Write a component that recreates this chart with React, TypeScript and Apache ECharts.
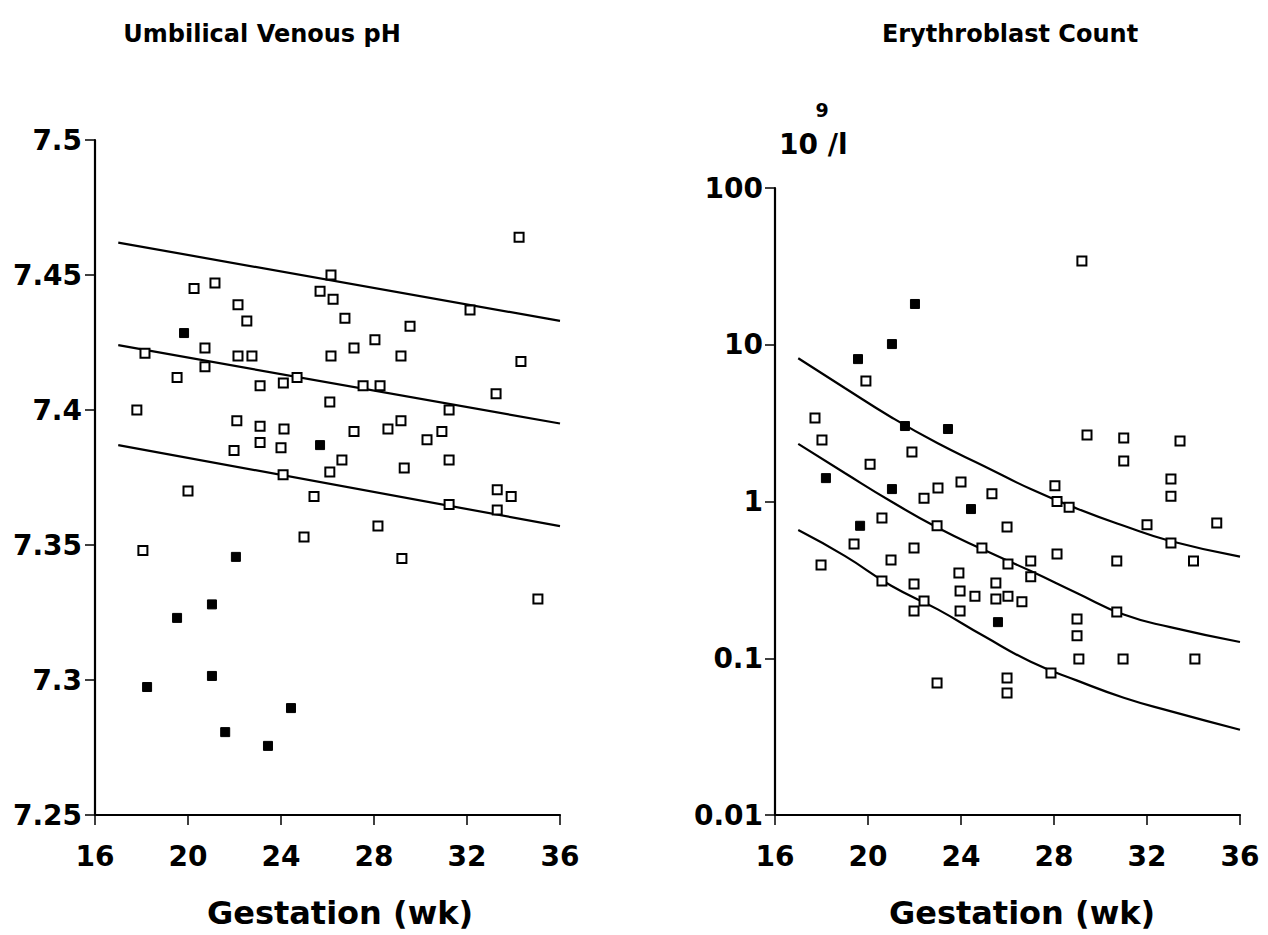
import React, { useEffect, useRef } from "react";
import * as echarts from "echarts";

// ---------- Data: Umbilical Venous pH ----------
const phOpen: number[][] = [
  [20.26, 7.445], [21.16, 7.447], [25.68, 7.444], [22.15, 7.439], [22.53, 7.433],
  [20.73, 7.423], [18.15, 7.421], [22.15, 7.42], [22.75, 7.42], [20.73, 7.416],
  [19.53, 7.412], [24.69, 7.412], [23.1, 7.409], [24.1, 7.41], [17.8, 7.4],
  [22.1, 7.396], [23.1, 7.394], [24.13, 7.393], [23.1, 7.388], [24.0, 7.386],
  [21.98, 7.385], [24.09, 7.376], [20.0, 7.37], [25.42, 7.368],
  [34.24, 7.464], [26.15, 7.45], [26.24, 7.441], [32.13, 7.437], [26.75, 7.434],
  [29.55, 7.431], [28.04, 7.426], [27.14, 7.423], [26.15, 7.42], [29.16, 7.42],
  [34.32, 7.418], [27.53, 7.409], [28.26, 7.409], [33.25, 7.406], [26.1, 7.403],
  [31.23, 7.4], [29.16, 7.396], [27.14, 7.392], [28.6, 7.393], [30.92, 7.392],
  [30.28, 7.389], [26.62, 7.3815], [31.23, 7.3815], [26.1, 7.377], [29.3, 7.3785],
  [33.3, 7.3705], [33.9, 7.368], [31.23, 7.365], [33.3, 7.363],
  [18.06, 7.348], [24.99, 7.353], [28.17, 7.357], [29.2, 7.345], [35.05, 7.33],
];
const phFilled: number[][] = [
  [19.83, 7.4285], [25.68, 7.387], [22.06, 7.3456], [21.03, 7.328], [19.53, 7.323],
  [21.03, 7.3015], [18.24, 7.2974], [24.43, 7.2896], [21.6, 7.2807], [23.44, 7.2756],
];
const phUpper: number[][] = [[17, 7.462], [36, 7.433]];
const phMiddle: number[][] = [[17, 7.424], [36, 7.395]];
const phLower: number[][] = [[17, 7.387], [36, 7.357]];

// ---------- Data: Erythroblast Count (10^9/l) ----------
const ebOpen: number[][] = [
  [19.91, 5.87], [17.72, 3.41], [18.02, 2.47], [21.89, 2.07], [20.09, 1.73],
  [24.0, 1.33], [23.01, 1.22], [22.41, 1.05], [25.33, 1.12], [20.6, 0.785],
  [22.97, 0.7], [25.98, 0.687],
  [29.2, 34.2], [29.42, 2.66], [31.0, 2.54], [33.42, 2.43], [31.0, 1.81],
  [33.03, 1.39], [33.03, 1.08], [28.04, 1.26], [28.13, 1.0], [28.65, 0.92],
  [32.0, 0.71], [35.0, 0.73],
  [19.4, 0.536], [21.98, 0.505], [17.98, 0.394], [20.99, 0.424], [24.9, 0.505],
  [26.02, 0.4], [27.0, 0.417], [28.13, 0.462], [30.7, 0.417], [34.0, 0.417],
  [33.03, 0.543], [27.0, 0.331], [23.91, 0.35], [25.5, 0.302], [21.98, 0.298],
  [20.6, 0.311], [23.96, 0.269], [24.6, 0.249], [25.5, 0.239], [26.02, 0.249],
  [26.62, 0.229], [22.41, 0.232], [21.98, 0.2], [23.96, 0.2], [30.7, 0.197],
  [28.99, 0.178], [28.99, 0.139], [29.07, 0.099], [30.97, 0.099], [34.06, 0.099],
  [27.87, 0.0805], [25.98, 0.0748], [25.98, 0.06], [22.97, 0.0695],
];
const ebFilled: number[][] = [
  [22.02, 18.2], [21.03, 10.1], [19.57, 8.1], [21.59, 3.03], [23.44, 2.9],
  [18.19, 1.41], [21.03, 1.2], [24.43, 0.895], [19.66, 0.7], [25.59, 0.17],
];
const ebUpper: number[][] = [
  [17, 8.2], [19, 5.3], [21, 3.45], [23, 2.35], [25, 1.68],
  [27, 1.2], [29, 0.9], [31, 0.7], [33, 0.56], [36, 0.445],
];
const ebMiddle: number[][] = [
  [17, 2.33], [19, 1.52], [21, 1.0], [23, 0.68], [25, 0.49],
  [27, 0.36], [29, 0.26], [31, 0.19], [33, 0.158], [36, 0.127],
];
const ebLower: number[][] = [
  [17, 0.658], [19, 0.45], [21, 0.29], [23, 0.205], [25, 0.138],
  [27, 0.095], [29, 0.072], [31, 0.056], [33, 0.046], [36, 0.035],
];

const xTicks = { min: 16, max: 36, interval: 4 };
const phTicks = { min: 7.25, max: 7.5, interval: 0.05 };
const ebTicks = { min: 0.01, max: 100 };

const FONT = "DejaVu Sans";

export default function App() {
  const ref = useRef<HTMLDivElement>(null);
  useEffect(() => {
    if (!ref.current) return;
    const chart = echarts.init(ref.current, undefined, { renderer: "svg" });

    const axisLine = { show: true, lineStyle: { color: "#000", width: 2.2 } };
    const axisTick = { show: true, length: 10, lineStyle: { color: "#000", width: 1.5 } };
    const labelStyle = { color: "#000", fontFamily: FONT, fontWeight: "bold" as const, fontSize: 28 };

    const xAxisBase = (gridIndex: number) => ({
      type: "value" as const,
      gridIndex,
      min: xTicks.min,
      max: xTicks.max,
      interval: xTicks.interval,
      axisLine,
      axisTick,
      splitLine: { show: false },
      axisLabel: { ...labelStyle, margin: 27 },
    });

    const openStyle = { color: "#fff", borderColor: "#000", borderWidth: 2, opacity: 1 };
    const fillStyle = { color: "#000", borderColor: "#000", borderWidth: 1, opacity: 1 };
    const lineSeries = (data: number[][], idx: number, smooth: boolean | number) => ({
      type: "line" as const,
      xAxisIndex: idx,
      yAxisIndex: idx,
      data,
      smooth,
      showSymbol: false,
      symbol: "none",
      lineStyle: { color: "#000", width: 2.2 },
      z: 1,
    });
    const scatter = (data: number[][], idx: number, filled: boolean) => ({
      type: "scatter" as const,
      xAxisIndex: idx,
      yAxisIndex: idx,
      data,
      symbol: "rect",
      symbolSize: 9,
      itemStyle: filled ? fillStyle : openStyle,
      z: 3,
    });
    const txt = (
      text: string,
      x: number,
      y: number,
      fontSize: number,
      textAlign: string,
      textVerticalAlign: string
    ) => ({
      type: "text",
      x,
      y,
      style: { text, textAlign, textVerticalAlign, fontFamily: FONT, fontWeight: "bold", fontSize, fill: "#000" },
    });

    chart.setOption({
      animation: false,
      backgroundColor: "#fff",
      grid: [
        { left: 95, top: 140, width: 465, height: 675 },
        { left: 775, top: 188, width: 465, height: 627 },
      ],
      xAxis: [xAxisBase(0), xAxisBase(1)],
      yAxis: [
        {
          type: "value",
          gridIndex: 0,
          min: phTicks.min,
          max: phTicks.max,
          interval: phTicks.interval,
          axisLine,
          axisTick,
          splitLine: { show: false },
          axisLabel: {
            ...labelStyle,
            margin: 13,
            formatter: (v: number) => String(+v.toFixed(2)),
          },
        },
        {
          type: "log",
          logBase: 10,
          gridIndex: 1,
          min: ebTicks.min,
          max: ebTicks.max,
          axisLine,
          axisTick,
          splitLine: { show: false },
          minorTick: { show: false },
          axisLabel: {
            ...labelStyle,
            margin: 12,
            formatter: (v: number) => String(+v.toPrecision(2)),
          },
        },
      ],
      graphic: [
        txt("Umbilical Venous pH", 262, 34, 24, "center", "middle"),
        txt("Erythroblast Count", 1010, 34, 24, "center", "middle"),
        txt("9", 822, 110, 19, "center", "middle"),
        txt("10 /l", 779, 144, 28, "left", "middle"),
        txt("Gestation (wk)", 340, 913, 32, "center", "middle"),
        txt("Gestation (wk)", 1022, 913, 32, "center", "middle"),
      ],
      series: [
        lineSeries(phUpper, 0, false),
        lineSeries(phMiddle, 0, false),
        lineSeries(phLower, 0, false),
        scatter(phOpen, 0, false),
        scatter(phFilled, 0, true),
        lineSeries(ebUpper, 1, 0.5),
        lineSeries(ebMiddle, 1, 0.5),
        lineSeries(ebLower, 1, 0.5),
        scatter(ebOpen, 1, false),
        scatter(ebFilled, 1, true),
      ],
    });
    return () => chart.dispose();
  }, []);

  return (
    <div
      ref={ref}
      style={{ position: "fixed", left: 0, top: 0, width: 1268, height: 935, background: "#fff" }}
    />
  );
}
